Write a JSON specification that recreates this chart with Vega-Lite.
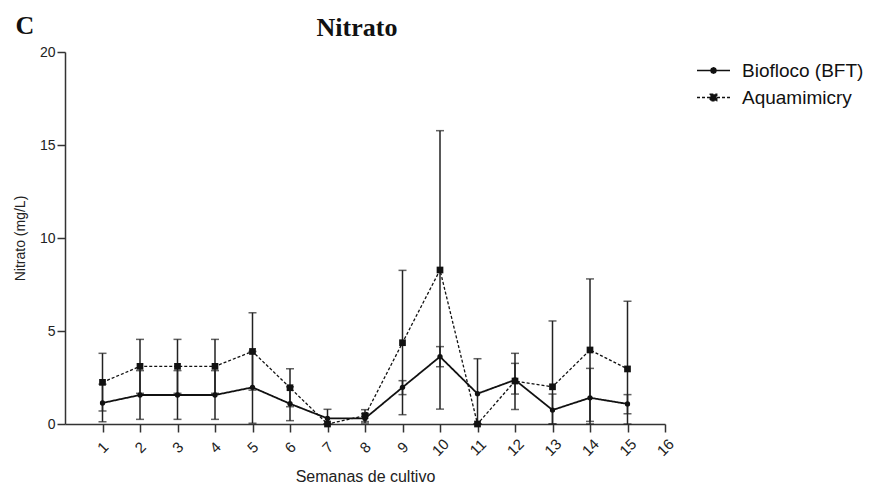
{
  "$schema": "https://vega.github.io/schema/vega-lite/v6.json",
  "padding": {"left": 13, "top": 13, "right": 0, "bottom": 0},
  "background": "white",
  "title": {"text": "C", "anchor": "start", "frame": "bounds", "font": "Liberation Serif", "fontSize": 26, "fontWeight": "bold", "color": "#111", "dx": 2, "dy": 28},
  "config": {
    "view": {"stroke": null},
    "axis": {"grid": false, "domainColor": "#333", "domainWidth": 1.5, "tickColor": "#333", "tickWidth": 1.5, "tickSize": 8, "labelFont": "Liberation Sans", "labelColor": "#222", "labelFontSize": 14, "titleFont": "Liberation Sans", "titleFontWeight": "normal", "titleColor": "#222"}
  },
  "datasets": {
    "nitrato": [
      {"semana": 1, "serie": "Biofloco (BFT)", "media": 1.13, "lo": 0.12, "hi": 2.14},
      {"semana": 2, "serie": "Biofloco (BFT)", "media": 1.56, "lo": 0.25, "hi": 2.87},
      {"semana": 3, "serie": "Biofloco (BFT)", "media": 1.56, "lo": 0.25, "hi": 2.87},
      {"semana": 4, "serie": "Biofloco (BFT)", "media": 1.56, "lo": 0.25, "hi": 2.87},
      {"semana": 5, "serie": "Biofloco (BFT)", "media": 1.97, "lo": 0.04, "hi": 3.9},
      {"semana": 6, "serie": "Biofloco (BFT)", "media": 1.09, "lo": 0.18, "hi": 2.0},
      {"semana": 7, "serie": "Biofloco (BFT)", "media": 0.3, "lo": 0.0, "hi": 0.79},
      {"semana": 8, "serie": "Biofloco (BFT)", "media": 0.3, "lo": 0.05, "hi": 0.55},
      {"semana": 9, "serie": "Biofloco (BFT)", "media": 1.97, "lo": 1.58, "hi": 2.33},
      {"semana": 10, "serie": "Biofloco (BFT)", "media": 3.62, "lo": 3.08, "hi": 4.16},
      {"semana": 11, "serie": "Biofloco (BFT)", "media": 1.63, "lo": 0.0, "hi": 3.51},
      {"semana": 12, "serie": "Biofloco (BFT)", "media": 2.37, "lo": 1.61, "hi": 3.26},
      {"semana": 13, "serie": "Biofloco (BFT)", "media": 0.75, "lo": 0.0, "hi": 1.61},
      {"semana": 14, "serie": "Biofloco (BFT)", "media": 1.41, "lo": 0.0, "hi": 2.99},
      {"semana": 15, "serie": "Biofloco (BFT)", "media": 1.08, "lo": 0.55, "hi": 1.58},
      {"semana": 1, "serie": "Aquamimicry", "media": 2.24, "lo": 0.7, "hi": 3.8},
      {"semana": 2, "serie": "Aquamimicry", "media": 3.1, "lo": 1.65, "hi": 4.55},
      {"semana": 3, "serie": "Aquamimicry", "media": 3.1, "lo": 1.65, "hi": 4.55},
      {"semana": 4, "serie": "Aquamimicry", "media": 3.1, "lo": 1.65, "hi": 4.55},
      {"semana": 5, "serie": "Aquamimicry", "media": 3.9, "lo": 1.82, "hi": 5.98},
      {"semana": 6, "serie": "Aquamimicry", "media": 1.95, "lo": 0.93, "hi": 2.97},
      {"semana": 7, "serie": "Aquamimicry", "media": 0.0, "lo": 0.0, "hi": 0.0},
      {"semana": 8, "serie": "Aquamimicry", "media": 0.45, "lo": 0.13, "hi": 0.77},
      {"semana": 9, "serie": "Aquamimicry", "media": 4.37, "lo": 0.5, "hi": 8.26},
      {"semana": 10, "serie": "Aquamimicry", "media": 8.28, "lo": 0.8, "hi": 15.77},
      {"semana": 11, "serie": "Aquamimicry", "media": 0.0, "lo": 0.0, "hi": 0.0},
      {"semana": 12, "serie": "Aquamimicry", "media": 2.31, "lo": 0.78, "hi": 3.8},
      {"semana": 13, "serie": "Aquamimicry", "media": 2.0, "lo": 0.0, "hi": 5.54},
      {"semana": 14, "serie": "Aquamimicry", "media": 3.98, "lo": 0.14, "hi": 7.8},
      {"semana": 15, "serie": "Aquamimicry", "media": 2.96, "lo": 0.0, "hi": 6.6}
    ]
  },
  "vconcat": [
    {
      "width": 600,
      "height": 372,
      "title": {"text": "Nitrato", "anchor": "middle", "font": "Liberation Serif", "fontSize": 26, "fontWeight": "bold", "color": "#111", "offset": 4, "dx": -8},
      "data": {"name": "nitrato"},
      "encoding": {
        "x": {"field": "semana", "type": "quantitative", "scale": {"domain": [0, 16], "nice": false, "zero": false},
          "axis": {"values": [1,2,3,4,5,6,7,8,9,10,11,12,13,14,15,16], "labelAngle": -45, "labelAlign": "center", "labelBaseline": "middle", "labelPadding": 15, "labelFontSize": 15, "title": "Semanas de cultivo", "titleFontSize": 16, "titlePadding": 10}}
      },
      "layer": [
        {
          "mark": {"type": "rule", "color": "#222", "strokeWidth": 1.5},
          "encoding": {
            "y": {"field": "lo", "type": "quantitative", "scale": {"domain": [0, 20], "nice": false},
              "axis": {"values": [0,5,10,15,20], "labelPadding": 2, "title": "Nitrato (mg/L)", "titleFontSize": 14, "titlePadding": 12}},
            "y2": {"field": "hi"}
          }
        },
        {
          "mark": {"type": "tick", "orient": "horizontal", "color": "#222", "size": 8, "thickness": 1.5},
          "encoding": {"y": {"field": "lo", "type": "quantitative"}}
        },
        {
          "mark": {"type": "tick", "orient": "horizontal", "color": "#222", "size": 8, "thickness": 1.5},
          "encoding": {"y": {"field": "hi", "type": "quantitative"}}
        },
        {
          "mark": {"type": "line", "color": "#111"},
          "encoding": {
            "y": {"field": "media", "type": "quantitative"},
            "strokeWidth": {"field": "serie", "type": "nominal", "scale": {"domain": ["Aquamimicry", "Biofloco (BFT)"], "range": [1.3, 1.8]}, "legend": null},
            "strokeDash": {"field": "serie", "type": "nominal", "scale": {"domain": ["Biofloco (BFT)", "Aquamimicry"], "range": [[1, 0], [3, 2]]},
              "legend": {"title": null, "orient": "right", "offset": 18, "padding": 9, "symbolSize": 100, "labelFontSize": 19, "labelFont": "Liberation Sans", "labelColor": "#111", "labelOffset": 19, "rowPadding": 7, "symbolStrokeWidth": 1.5, "symbolStrokeColor": "#111", "symbolFillColor": "#111",
                "encode": {"symbols": {"update": {
                  "shape": {"signal": "datum.value === 'Biofloco (BFT)' ? 'M-3.3,0L3.3,0M0.54,0L0.38,0.38L0,0.54L-0.38,0.38L-0.54,0L-0.38,-0.38L0,-0.54L0.38,-0.38Z' : 'M-3.3,0L3.3,0M-0.64,-0.64L0.64,-0.64L0.64,0.64L-0.64,0.64Z'"},
                  "fill": {"value": "#111"},
                  "fillOpacity": {"value": 1},
                  "stroke": {"value": "#111"},
                  "strokeOpacity": {"value": 1},
                  "strokeWidth": {"value": 1.5}
                }}}}}
          }
        },
        {
          "mark": {"type": "point", "filled": true, "color": "#111", "opacity": 1},
          "encoding": {
            "y": {"field": "media", "type": "quantitative"},
            "shape": {"field": "serie", "type": "nominal", "scale": {"domain": ["Aquamimicry", "Biofloco (BFT)"], "range": ["square", "circle"]}, "legend": null},
            "size": {"field": "serie", "type": "nominal", "scale": {"domain": ["Aquamimicry", "Biofloco (BFT)"], "range": [45, 28]}, "legend": null}
          }
        }
      ]
    }
  ]
}
